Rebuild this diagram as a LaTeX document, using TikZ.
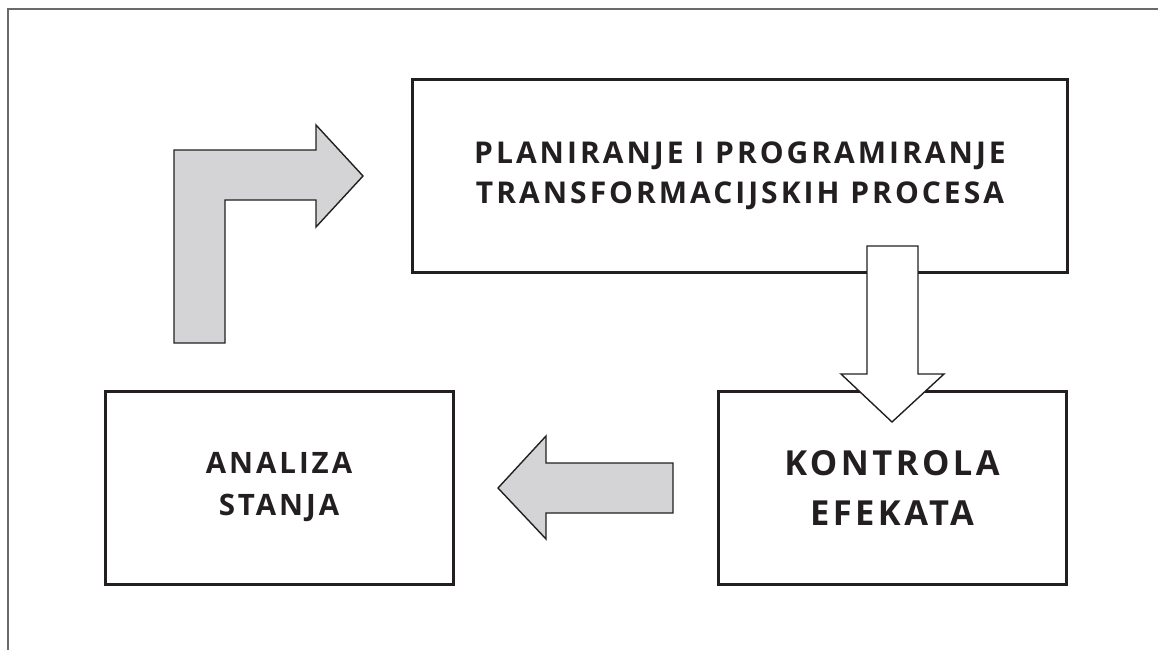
\documentclass[tikz,border=0pt]{standalone}
\usepackage{fontspec}
\setmainfont{Open Sans}[BoldFont={* Bold}]
\newfontfamily\spaced{Open Sans}[BoldFont={* Bold},LetterSpace=10]
\definecolor{ink}{HTML}{231F20}
\definecolor{arrowgray}{HTML}{D4D4D6}
\definecolor{framegray}{HTML}{6A6A6A}
\begin{document}
\begin{tikzpicture}[x=1pt,y=-1pt,
  box/.style={draw=ink,line width=3pt,align=center,inner sep=0pt,text=ink},
  blockarrow/.style={draw=ink,line width=1.4pt,line join=miter,fill=arrowgray},
  whitearrow/.style={draw=ink,line width=1.4pt,line join=miter,fill=white}]
\useasboundingbox (0,0) rectangle (1158,650);
% outer frame
\draw[framegray,line width=2pt] (1158,9) -- (8,9) -- (8,650);
% boxes
\node[box,minimum width=655pt,minimum height=193pt,font=\spaced\bfseries\fontsize{30}{40.5}\selectfont] (plan) at (740,176) {PLANIRANJE I PROGRAMIRANJE\\TRANSFORMACIJSKIH PROCESA};
\node[box,minimum width=348pt,minimum height=193pt,font=\spaced\bfseries\fontsize{29.5}{42}\selectfont] (anal) at (279,487.5) {ANALIZA\\STANJA};
\node[box,minimum width=348pt,minimum height=193pt,font=\spaced\bfseries\fontsize{34.5}{50}\selectfont] (kontr) at (892,487.5) {KONTROLA\\EFEKATA};
% bent arrow from analiza to planiranje
\draw[blockarrow] (174,343) -- (174,150) -- (316,150) -- (316,125) -- (363,176) -- (316,227) -- (316,200) -- (225,200) -- (225,343) -- cycle;
% down arrow from planiranje to kontrola
\draw[whitearrow] (867,246) -- (918,246) -- (918,374) -- (944,374) -- (892,422) -- (841,374) -- (867,374) -- cycle;
% left arrow from kontrola to analiza
\draw[blockarrow] (673,463) -- (546,463) -- (546,436) -- (498,488) -- (546,539) -- (546,513) -- (673,513) -- cycle;
\end{tikzpicture}
\end{document}
